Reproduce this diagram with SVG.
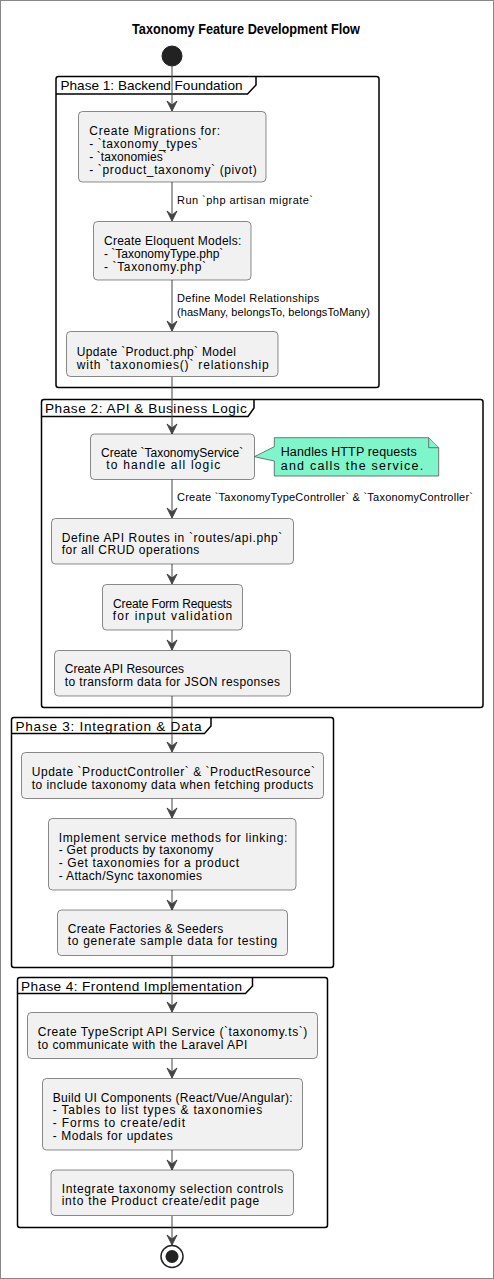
<svg xmlns="http://www.w3.org/2000/svg" width="494" height="1279" viewBox="0 0 494 1279">
<style>
text{font-family:"Liberation Sans",Arial,sans-serif;fill:#000}
.title{font-size:14px;font-weight:bold}
.t{font-size:12px}
.el{font-size:11px}
.tab{font-size:13.6px}
.nt{font-size:12.5px}
.node{fill:#F1F1F1;stroke:#181818;stroke-width:0.5}
.frame{fill:none;stroke:#000;stroke-width:1.5}
.tabline{fill:none;stroke:#000;stroke-width:1.5}
.edge{stroke:#444;stroke-width:1;fill:none}
.note{fill:#7FF5CC;stroke:#555;stroke-width:0.8}
</style>
<rect x="0.5" y="0.5" width="493" height="1278" fill="#fff" stroke="#888" stroke-width="1"/>
<text class="title" x="246" y="34" text-anchor="middle" textLength="228" lengthAdjust="spacingAndGlyphs">Taxonomy Feature Development Flow</text>

<g id="phase1">
<rect class="frame" x="56" y="76.5" width="323" height="311" rx="2.5"/>
<path class="tabline" d="M256,76.5 V85 L247.5,94 H56"/>
<text class="tab" x="60.5" y="90" textLength="182" lengthAdjust="spacing">Phase 1: Backend Foundation</text>
</g>
<g id="phase2">
<rect class="frame" x="41.5" y="399.5" width="441.5" height="308" rx="2.5"/>
<path class="tabline" d="M254,399.5 V408 L248,416.5 H41.5"/>
<text class="tab" x="45" y="413" textLength="201.7" lengthAdjust="spacing">Phase 2: API &amp; Business Logic</text>
</g>
<g id="phase3">
<rect class="frame" x="11.5" y="717.5" width="322" height="250" rx="2.5"/>
<path class="tabline" d="M211,717.5 V726 L204.5,733.5 H11.5"/>
<text class="tab" x="15.5" y="731" textLength="186" lengthAdjust="spacing">Phase 3: Integration &amp; Data</text>
</g>
<g id="phase4">
<rect class="frame" x="17.5" y="977.5" width="310" height="250" rx="2.5"/>
<path class="tabline" d="M252.5,977.5 V986 L245.5,993.5 H17.5"/>
<text class="tab" x="21" y="991" textLength="221" lengthAdjust="spacing">Phase 4: Frontend Implementation</text>
</g>

<g id="connectors">
<g class="edge">
<line x1="172" y1="66" x2="172" y2="111"/>
<line x1="172" y1="182" x2="172" y2="221"/>
<line x1="172" y1="280" x2="172" y2="331"/>
<line x1="172" y1="377" x2="172" y2="434"/>
<line x1="172" y1="479" x2="172" y2="518"/>
<line x1="172" y1="564" x2="172" y2="584"/>
<line x1="172" y1="630" x2="172" y2="650"/>
<line x1="172" y1="696" x2="172" y2="752"/>
<line x1="172" y1="798" x2="172" y2="818"/>
<line x1="172" y1="890" x2="172" y2="910"/>
<line x1="172" y1="955" x2="172" y2="1012"/>
<line x1="172" y1="1058" x2="172" y2="1078"/>
<line x1="172" y1="1150" x2="172" y2="1170"/>
<line x1="172" y1="1216" x2="172" y2="1245"/>
</g>
<g fill="#444" stroke="#444" stroke-width="1">
<polygon points="167,101 172,111 177,101 172,105"/>
<polygon points="167,211 172,221 177,211 172,215"/>
<polygon points="167,321 172,331 177,321 172,325"/>
<polygon points="167,424 172,434 177,424 172,428"/>
<polygon points="167,508 172,518 177,508 172,512"/>
<polygon points="167,574 172,584 177,574 172,578"/>
<polygon points="167,640 172,650 177,640 172,644"/>
<polygon points="167,742 172,752 177,742 172,746"/>
<polygon points="167,808 172,818 177,808 172,812"/>
<polygon points="167,900 172,910 177,900 172,904"/>
<polygon points="167,1002 172,1012 177,1002 172,1006"/>
<polygon points="167,1068 172,1078 177,1068 172,1072"/>
<polygon points="167,1160 172,1170 177,1160 172,1164"/>
<polygon points="167,1235 172,1245 177,1235 172,1239"/>
</g>
<text class="el" x="177" y="204" textLength="136" lengthAdjust="spacing">Run `php artisan migrate`</text>
<text class="el" x="177" y="302" textLength="142.3" lengthAdjust="spacing">Define Model Relationships</text>
<text class="el" x="177" y="316" textLength="193" lengthAdjust="spacing">(hasMany, belongsTo, belongsToMany)</text>
<text class="el" x="177" y="501" textLength="296" lengthAdjust="spacing">Create `TaxonomyTypeController` &amp; `TaxonomyController`</text>
</g>

<g id="start"><circle cx="172" cy="56" r="10" fill="#222" stroke="#222"/></g>

<g id="n1">
<rect class="node" x="78.5" y="111.5" width="187.5" height="70.5" rx="4"/>
<text class="t" x="89.3" y="135" textLength="130.7" lengthAdjust="spacing">Create Migrations for:</text>
<text class="t" x="89.3" y="148" textLength="112.4" lengthAdjust="spacing">- `taxonomy_types`</text>
<text class="t" x="89.3" y="161" textLength="77.4" lengthAdjust="spacing">- `taxonomies`</text>
<text class="t" x="89.3" y="174" textLength="167.4" lengthAdjust="spacing">- `product_taxonomy` (pivot)</text>
</g>
<g id="n2">
<rect class="node" x="93.5" y="221.5" width="157.5" height="58.5" rx="4"/>
<text class="t" x="104" y="244.5" textLength="137.3" lengthAdjust="spacing">Create Eloquent Models:</text>
<text class="t" x="104" y="257.5" textLength="119.3" lengthAdjust="spacing">- `TaxonomyType.php`</text>
<text class="t" x="104" y="270.5" textLength="102" lengthAdjust="spacing">- `Taxonomy.php`</text>
</g>
<g id="n3">
<rect class="node" x="66.5" y="331.5" width="211.5" height="45" rx="4"/>
<text class="t" x="76.7" y="355.5" textLength="159.3" lengthAdjust="spacing">Update `Product.php` Model</text>
<text class="t" x="76.7" y="368.5" textLength="192" lengthAdjust="spacing">with `taxonomies()` relationship</text>
</g>
<g id="n4">
<rect class="node" x="90.5" y="434" width="164" height="45.5" rx="4"/>
<text class="t" x="101" y="456.5" textLength="142.3" lengthAdjust="spacing">Create `TaxonomyService`</text>
<text class="t" x="106.3" y="469" textLength="114" lengthAdjust="spacing">to handle all logic</text>
</g>
<g id="note1">
<path class="note" d="M274.3,437.7 H428.7 L438.7,447.7 V476 H274.3 V461 L254.3,456.7 L274.3,446.7 Z"/>
<path class="note" d="M428.7,437.7 V447.7 H438.7" fill="none"/>
<text class="nt" x="280.7" y="456" textLength="136" lengthAdjust="spacing">Handles HTTP requests</text>
<text class="nt" x="280.7" y="469.5" textLength="142.5" lengthAdjust="spacing">and calls the service.</text>
</g>
<g id="n5">
<rect class="node" x="51.5" y="518.5" width="242" height="45.5" rx="4"/>
<text class="t" x="61.7" y="541.5" textLength="220.6" lengthAdjust="spacing">Define API Routes in `routes/api.php`</text>
<text class="t" x="61.7" y="554" textLength="137.6" lengthAdjust="spacing">for all CRUD operations</text>
</g>
<g id="n6">
<rect class="node" x="102.5" y="584.5" width="140" height="45.5" rx="4"/>
<text class="t" x="113" y="607.5" textLength="119" lengthAdjust="spacing">Create Form Requests</text>
<text class="t" x="112.7" y="620" textLength="119.6" lengthAdjust="spacing">for input validation</text>
</g>
<g id="n7">
<rect class="node" x="54.5" y="650.5" width="236" height="45.5" rx="4"/>
<text class="t" x="64.7" y="673" textLength="119.3" lengthAdjust="spacing">Create API Resources</text>
<text class="t" x="64.7" y="686" textLength="215.3" lengthAdjust="spacing">to transform data for JSON responses</text>
</g>
<g id="n8">
<rect class="node" x="21.5" y="752.5" width="302" height="46" rx="4"/>
<text class="t" x="31.7" y="775.5" textLength="283.3" lengthAdjust="spacing">Update `ProductController` &amp; `ProductResource`</text>
<text class="t" x="31.7" y="788.5" textLength="281.6" lengthAdjust="spacing">to include taxonomy data when fetching products</text>
</g>
<g id="n9">
<rect class="node" x="48.5" y="818.5" width="247.5" height="71.5" rx="4"/>
<text class="t" x="58.7" y="841.5" textLength="228.6" lengthAdjust="spacing">Implement service methods for linking:</text>
<text class="t" x="58.7" y="854.2" textLength="154.6" lengthAdjust="spacing">- Get products by taxonomy</text>
<text class="t" x="58.7" y="867" textLength="180.3" lengthAdjust="spacing">- Get taxonomies for a product</text>
<text class="t" x="58.7" y="879.8" textLength="143.3" lengthAdjust="spacing">- Attach/Sync taxonomies</text>
</g>
<g id="n10">
<rect class="node" x="57.5" y="910" width="230" height="45.5" rx="4"/>
<text class="t" x="67.7" y="932.5" textLength="155.6" lengthAdjust="spacing">Create Factories &amp; Seeders</text>
<text class="t" x="67.7" y="945" textLength="209.6" lengthAdjust="spacing">to generate sample data for testing</text>
</g>
<g id="n11">
<rect class="node" x="27.5" y="1012.5" width="290" height="46" rx="4"/>
<text class="t" x="37.7" y="1035.5" textLength="269.6" lengthAdjust="spacing">Create TypeScript API Service (`taxonomy.ts`)</text>
<text class="t" x="37.7" y="1048.5" textLength="209.6" lengthAdjust="spacing">to communicate with the Laravel API</text>
</g>
<g id="n12">
<rect class="node" x="42.5" y="1078.5" width="260" height="71.5" rx="4"/>
<text class="t" x="52.7" y="1101.5" textLength="240" lengthAdjust="spacing">Build UI Components (React/Vue/Angular):</text>
<text class="t" x="52.7" y="1114.2" textLength="209.6" lengthAdjust="spacing">- Tables to list types &amp; taxonomies</text>
<text class="t" x="52.7" y="1126.8" textLength="132.3" lengthAdjust="spacing">- Forms to create/edit</text>
<text class="t" x="52.7" y="1139.5" textLength="120" lengthAdjust="spacing">- Modals for updates</text>
</g>
<g id="n13">
<rect class="node" x="51" y="1170" width="242.5" height="45.5" rx="4"/>
<text class="t" x="61.7" y="1192.5" textLength="221.6" lengthAdjust="spacing">Integrate taxonomy selection controls</text>
<text class="t" x="61.7" y="1205" textLength="197.6" lengthAdjust="spacing">into the Product create/edit page</text>
</g>
<g id="end">
<circle cx="172" cy="1256.5" r="11" fill="#fff" stroke="#222" stroke-width="1.5"/>
<circle cx="172" cy="1256.5" r="6.5" fill="#222"/>
</g>
</svg>
